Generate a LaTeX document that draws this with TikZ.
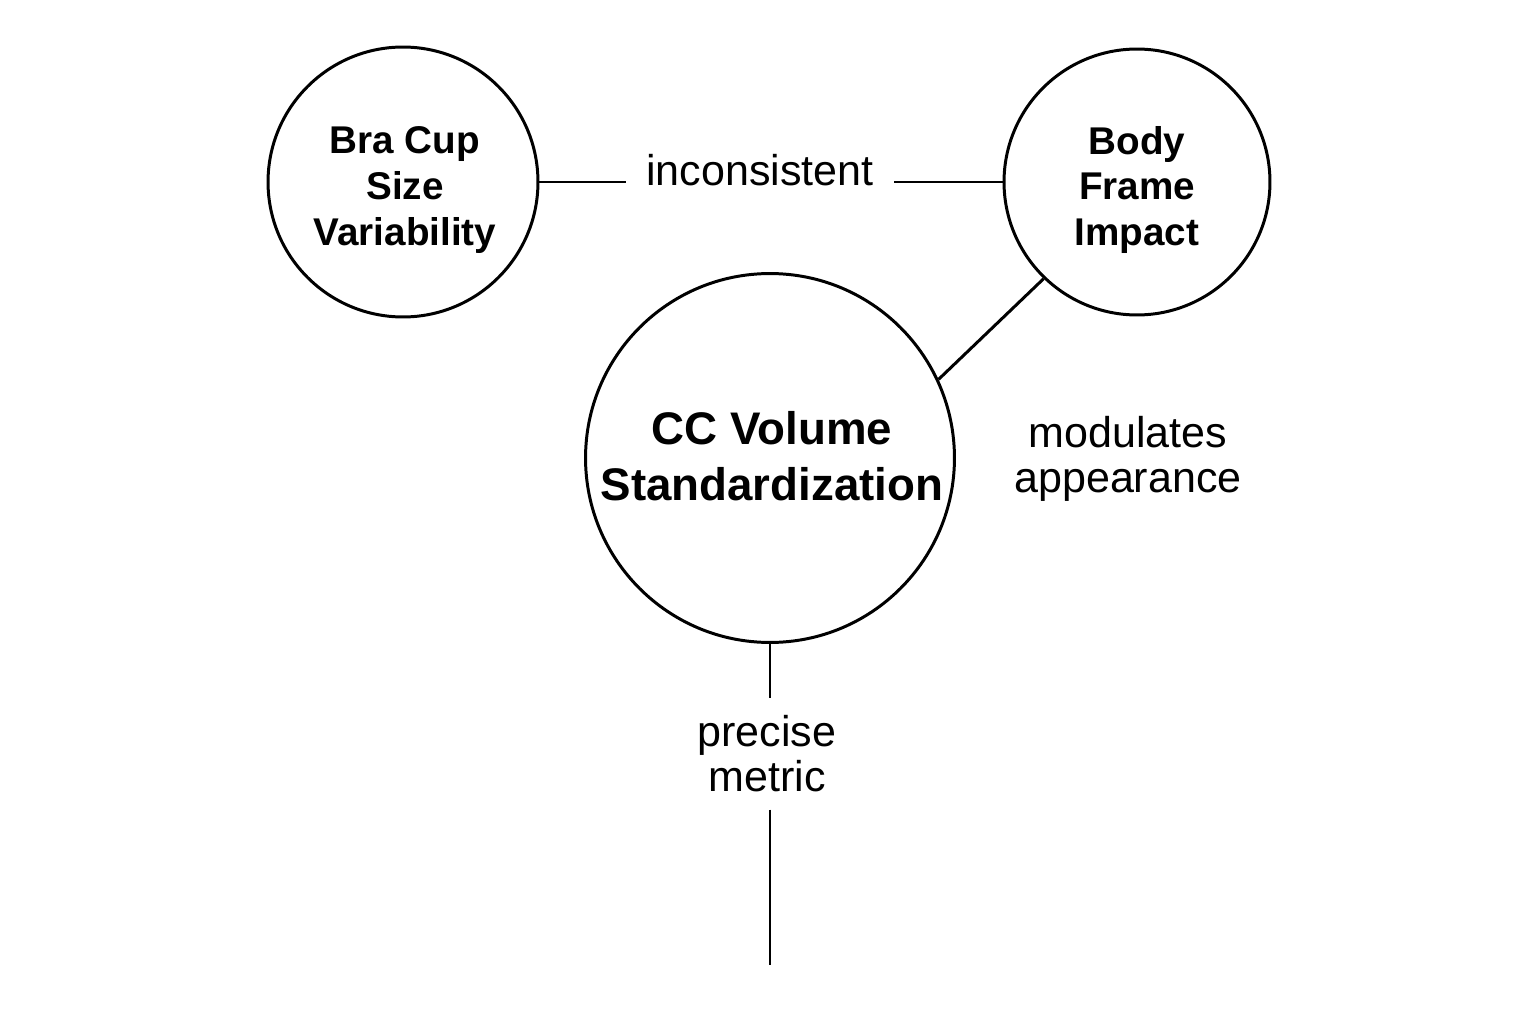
\documentclass[tikz,border=0pt]{standalone}
\usepackage{fontspec}
\setmainfont{Liberation Sans}
\begin{document}
\begin{tikzpicture}[x=0.02cm,y=-0.02cm,
  line width=1.7pt,
  bubble/.style={draw,circle,inner sep=0pt},
  btext/.style={align=center,inner sep=0pt,font=\fontsize{22}{26}\selectfont\bfseries},
  bigtext/.style={align=center,inner sep=0pt,font=\fontsize{26}{31.5}\selectfont\bfseries},
  lbl/.style={align=center,inner sep=0.38cm,font=\fontsize{24.5}{25.5}\selectfont}]
\useasboundingbox[fill=white] (0,0) rectangle (1536,1024);
\node[bubble,minimum size=5.4cm] (bra) at (403,182) {};
\node[btext] (bratext) at (405,190) {Bra Cup\\Size\\Variability};
\node[bubble,minimum size=5.32cm] (body) at (1137,182) {};
\node[btext] (bodytext) at (1137,190) {Body\\Frame\\Impact};
\node[bubble,minimum size=7.38cm] (cc) at (770,458) {};
\node[bigtext] (cctext) at (772,456) {CC Volume\\Standardization};
\node[lbl] (incon) at (760,170) {inconsistent};
\node[lbl] (mod) at (1128,459) {modulates\\appearance};
\node[lbl,inner sep=0.32cm] (prec) at (767,754) {precise\\metric};
\coordinate (bot) at (770,965);
\draw (bra.east) -- (bra.east -| incon.west);
\draw (body.west -| incon.east) -- (body.west);
\draw (body.226) -- (cc.25);
\draw (cc.south) -- (cc.south |- prec.north);
\draw (cc.south |- prec.south) -- (bot);
\end{tikzpicture}
\end{document}
